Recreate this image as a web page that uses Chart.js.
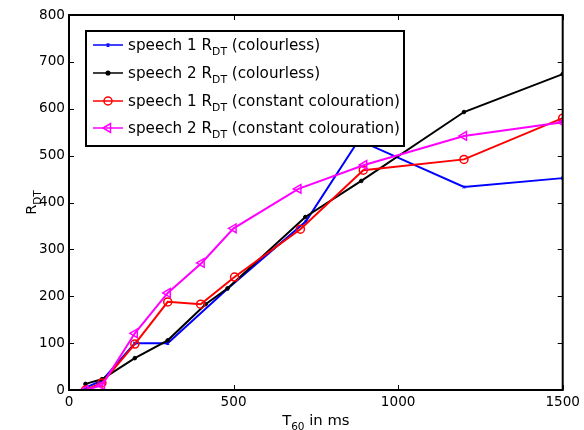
<!DOCTYPE html>
<html>
<head>
<meta charset="utf-8">
<script src="https://cdn.jsdelivr.net/npm/chart.js@4/dist/chart.umd.min.js"></script>
<style>
  html, body { margin: 0; padding: 0; background: #fff; }
  #wrap { width: 584px; height: 430px; position: relative; }
</style>
</head>
<body>
<div id="wrap"><canvas id="myChart" width="584" height="430"></canvas></div>
<script>
// --- data (T60 in ms, R_DT) ---
const s1PlainX = [50, 100, 200, 300, 480, 720, 880, 1200, 1500];
const s1PlainY = [5, 20, 100, 100, 215, 360, 533, 433, 452];

const s2PlainX = [50, 100, 200, 300, 415, 482, 718, 888, 1200, 1500];
const s2PlainY = [13, 23, 68, 106, 183, 217, 369, 446, 593, 674];

const s1ColX = [50, 100, 200, 300, 400, 503, 703, 894, 1200, 1500];
const s1ColY = [0, 15, 98, 188, 183, 241, 343, 469, 492, 580];

const s2ColX = [50, 100, 200, 300, 403, 500, 697, 897, 1200, 1500];
const s2ColY = [0, 10, 121, 207, 271, 345, 429, 480, 542, 571];

const seriesPre  = ['speech 1 R', 'speech 2 R', 'speech 1 R', 'speech 2 R'];
const seriesSub  = ['DT', 'DT', 'DT', 'DT'];
const seriesPost = [' (colourless)', ' (colourless)', ' (constant colouration)', ' (constant colouration)'];
const seriesColor = ['#0000ff', '#000000', '#ff0000', '#ff00ff'];

const xTicks = [0, 500, 1000, 1500];
const yTicks = [0, 100, 200, 300, 400, 500, 600, 700, 800];

const FONT = '"DejaVu Sans", Verdana, sans-serif';

function pts(xs, ys) { return xs.map((x, i) => ({ x: x, y: ys[i] })); }

// frame, inward ticks, axis titles with subscripts, legend box
const matlabLook = {
    id: 'matlabLook',
    afterDatasetsDraw(chart) {
        const ctx = chart.ctx;
        const a = chart.chartArea;
        const xs = chart.scales.x, ys = chart.scales.y;
        ctx.save();
        ctx.strokeStyle = '#000';
        ctx.lineWidth = 2;
        ctx.strokeRect(a.left, a.top, a.right - a.left, a.bottom - a.top);
        ctx.lineWidth = 1;
        ctx.beginPath();
        yTicks.forEach(v => {
            const y = Math.round(ys.getPixelForValue(v)) + 0.5;
            ctx.moveTo(a.left, y); ctx.lineTo(a.left + 5, y);
            ctx.moveTo(a.right, y); ctx.lineTo(a.right - 5, y);
        });
        xTicks.forEach(v => {
            const x = Math.round(xs.getPixelForValue(v)) + 0.5;
            ctx.moveTo(x, a.bottom); ctx.lineTo(x, a.bottom - 5);
            ctx.moveTo(x, a.top); ctx.lineTo(x, a.top + 5);
        });
        ctx.stroke();

        // legend box
        const lx = 86, ly = 31, lw = 318, lh = 115;
        ctx.fillStyle = '#fff';
        ctx.fillRect(lx, ly, lw, lh);
        ctx.lineWidth = 2;
        ctx.strokeRect(lx, ly, lw, lh);
        const rowY = [45, 73, 101, 128];
        chart.data.datasets.forEach((ds, i) => {
            const y = rowY[i];
            ctx.strokeStyle = ds.borderColor;
            ctx.lineWidth = 1.5;
            ctx.beginPath(); ctx.moveTo(93, y); ctx.lineTo(123, y); ctx.stroke();
            ctx.fillStyle = ds.pointBackgroundColor;
            ctx.strokeStyle = ds.borderColor;
            Chart.helpers.drawPoint(ctx, {
                pointStyle: ds.pointStyle, radius: ds.pointRadius,
                rotation: ds.pointRotation || 0, borderWidth: ds.pointBorderWidth
            }, 108, y);
            drawSub(ctx, seriesPre[i], seriesSub[i], seriesPost[i], 128, y + 5, 15.2, 10.8);
        });

        // axis titles
        drawSubCentered(ctx, 'T', '60', ' in ms', (a.left + a.right) / 2, 425, 14.8, 10.5);
        ctx.save();
        ctx.translate(36, (a.top + a.bottom) / 2);
        ctx.rotate(-Math.PI / 2);
        drawSubCentered(ctx, 'R', 'DT', '', 0, 0, 14.5, 10.5);
        ctx.restore();
        ctx.restore();
    }
};

function drawSub(ctx, pre, sub, post, x, y, big, small) {
    ctx.fillStyle = '#000';
    ctx.textAlign = 'left';
    ctx.textBaseline = 'alphabetic';
    ctx.font = big + 'px ' + FONT;
    ctx.fillText(pre, x, y);
    x += ctx.measureText(pre).width;
    ctx.font = small + 'px ' + FONT;
    ctx.fillText(sub, x, y + 5);
    x += ctx.measureText(sub).width;
    ctx.font = big + 'px ' + FONT;
    ctx.fillText(post, x, y);
}

function drawSubCentered(ctx, pre, sub, post, cx, y, big, small) {
    ctx.font = big + 'px ' + FONT;
    let w = ctx.measureText(pre).width + ctx.measureText(post).width;
    ctx.font = small + 'px ' + FONT;
    w += ctx.measureText(sub).width;
    drawSub(ctx, pre, sub, post, cx - w / 2, y, big, small);
}

const ctx = document.getElementById('myChart').getContext('2d');
new Chart(ctx, {
    type: 'line',
    data: {
        datasets: [
            { data: pts(s1PlainX, s1PlainY), borderColor: seriesColor[0], pointBackgroundColor: seriesColor[0],
              borderWidth: 2, pointStyle: 'crossRot', pointRadius: 2, pointBorderWidth: 1.2, order: 4 },
            { data: pts(s2PlainX, s2PlainY), borderColor: seriesColor[1], pointBackgroundColor: seriesColor[1],
              borderWidth: 2, pointStyle: 'circle', pointRadius: 1.8, pointBorderWidth: 1, order: 3 },
            { data: pts(s1ColX, s1ColY), borderColor: seriesColor[2], pointBackgroundColor: 'rgba(0,0,0,0)',
              borderWidth: 2, pointStyle: 'circle', pointRadius: 4, pointBorderWidth: 1.5, order: 2 },
            { data: pts(s2ColX, s2ColY), borderColor: seriesColor[3], pointBackgroundColor: 'rgba(0,0,0,0)',
              borderWidth: 2, pointStyle: 'triangle', pointRotation: -90, pointRadius: 5, pointBorderWidth: 1.5, order: 1 }
        ]
    },
    options: {
        responsive: false,
        animation: false,
        layout: { padding: { left: 0, right: 18, top: 15, bottom: 0 } },
        plugins: { legend: { display: false }, tooltip: { enabled: false } },
        elements: { line: { tension: 0 } },
        scales: {
            x: {
                type: 'linear', min: 0, max: 1500,
                afterFit: s => { s.height = 40; },
                afterBuildTicks: s => { s.ticks = xTicks.map(v => ({ value: v })); },
                grid: { display: false, drawTicks: false },
                border: { display: false },
                ticks: { color: '#000', font: { family: FONT, size: 13.6 }, padding: 4, maxRotation: 0,
                         callback: v => String(v) }
            },
            y: {
                type: 'linear', min: 0, max: 800,
                afterFit: s => { s.width = 69; },
                afterBuildTicks: s => { s.ticks = yTicks.map(v => ({ value: v })); },
                grid: { display: false, drawTicks: false },
                border: { display: false },
                ticks: { color: '#000', font: { family: FONT, size: 13.6 }, padding: 4,
                         callback: v => String(v) }
            }
        }
    },
    plugins: [matlabLook]
});
</script>
</body>
</html>
